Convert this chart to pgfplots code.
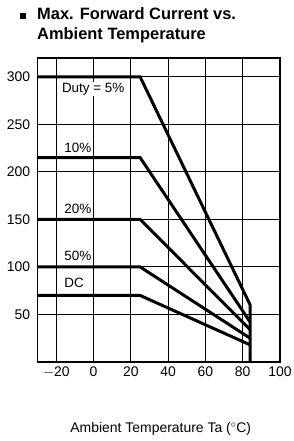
\documentclass[border=0pt]{standalone}
\usepackage{fontspec}
\setmainfont{Liberation Sans}
\usepackage{pgfplots}
\pgfplotsset{compat=1.18}
\begin{document}
\begin{tikzpicture}[x=1bp,y=1bp]
\path[use as bounding box] (0,0) rectangle (293,441);
\begin{axis}[
  at={(37.7bp,79bp)}, anchor=south west,
  scale only axis, width=242.3bp, height=304bp,
  xmin=-30, xmax=100, ymin=0, ymax=320,
  xtick={-20,0,20,40,60,80,100},
  ytick={50,100,150,200,250,300},
  xticklabels={$-$20,0,20,40,60,80,100},
  /pgf/number format/assume math mode=true,
  tick label style={font=\fontsize{14}{15}\selectfont},
  major tick length=0pt,
  grid=major,
  major grid style={black, line width=1bp},
  axis line style={black, line width=1.4bp},
  yticklabel style={xshift=-4bp},
  xticklabel style={yshift=-1bp},
  clip=false,
]
\addplot[black, line width=3bp, miter limit=2] coordinates {(-30,300) (25,300) (84,60) (84,0)};
\addplot[black, line width=3bp] coordinates {(-30,215) (25,215) (84,42)};
\addplot[black, line width=3bp] coordinates {(-30,150) (25,150) (84,34)};
\addplot[black, line width=3bp] coordinates {(-30,100) (25,100) (84,25)};
\addplot[black, line width=3bp] coordinates {(-30,70) (25,70) (84,18)};
\node[anchor=west, fill=white, inner sep=1bp, font=\fontsize{13.5}{14}\selectfont] at (axis cs:-17.6,287) {Duty = 5\%};
\node[anchor=west, font=\fontsize{13.5}{14}\selectfont] at (axis cs:-17.6,225) {10\%};
\node[anchor=west, font=\fontsize{13.5}{14}\selectfont] at (axis cs:-17.6,161) {20\%};
\node[anchor=west, font=\fontsize{13.5}{14}\selectfont] at (axis cs:-17.6,112) {50\%};
\node[anchor=west, font=\fontsize{13.5}{14}\selectfont] at (axis cs:-17.6,83) {DC};
\end{axis}
\fill (19.5,421.5) rectangle (26,428);
\node[anchor=base west, inner sep=0pt, font=\bfseries\fontsize{16.5}{18}\selectfont] at (37,421) {Max. Forward Current vs.};
\node[anchor=base west, inner sep=0pt, font=\bfseries\fontsize{16.5}{18}\selectfont] at (37,401) {Ambient Temperature};
\node[anchor=base, inner sep=0pt, font=\fontsize{14}{15}\selectfont] at (160.7,8) {Ambient Temperature Ta ($^\circ$C)};
\end{tikzpicture}
\end{document}
